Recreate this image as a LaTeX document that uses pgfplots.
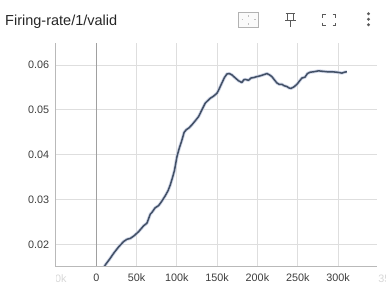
\documentclass[border=0pt]{standalone}
\usepackage{pgfplots}
\pgfplotsset{compat=1.18}
\usepackage{fontspec}
\setmainfont{Liberation Sans}
\definecolor{lineC}{RGB}{66,80,102}
\definecolor{haloC}{RGB}{196,204,226}
\definecolor{gridC}{RGB}{222,222,222}
\definecolor{zeroC}{RGB}{160,160,160}
\definecolor{axC}{RGB}{185,185,185}
\definecolor{tickC}{RGB}{60,60,60}
\definecolor{fadeC}{RGB}{215,215,215}
\definecolor{iconC}{RGB}{90,90,90}
\begin{document}
\begin{tikzpicture}
\begin{axis}[
  scale only axis,
  width=320.7pt, height=223.7pt,
  at={(0,0)}, anchor=south west,
  xmin=-50000, xmax=348000,
  ymin=0.0151, ymax=0.0649,
  scaled ticks=false,
  axis line style={draw=none},
  axis x line*=bottom, axis y line*=left,
  xtick={0,50000,100000,150000,200000,250000,300000},
  xticklabels={0,50k,100k,150k,200k,250k,300k},
  ytick={0.02,0.03,0.04,0.05,0.06},
  yticklabels={0.02,0.03,0.04,0.05,0.06},
  major tick length=0pt,
  grid=major,
  major grid style={gridC, line width=1pt},
  tick label style={font=\fontsize{10.8}{13}\selectfont, text=tickC},
  xticklabel style={yshift=-3.7pt},
  yticklabel style={xshift=-3.4pt},
  clip=true,
]
\addplot[haloC, line width=3.2pt, line join=round, opacity=0.8] coordinates {
(8000,0.0146)(12000,0.0157)(17400,0.0170)(22000,0.0182)(27700,0.0195)(33900,0.0207)(38000,0.0212)(42200,0.0214)(47000,0.0220)(52500,0.0229)(58700,0.0242)(62900,0.0248)(67000,0.0268)(69100,0.0272)(73000,0.0282)(77300,0.0287)(81000,0.0296)(85600,0.0309)(89000,0.0320)(91800,0.0333)(95000,0.0352)(97100,0.0366)(100100,0.0396)(103000,0.0415)(106300,0.0433)(109000,0.0450)(111700,0.0456)(115000,0.0460)(118700,0.0467)(122000,0.0474)(126900,0.0485)(131000,0.0500)(135200,0.0515)(138000,0.0520)(141400,0.0526)(145000,0.0530)(149700,0.0537)(152000,0.0545)(155900,0.0560)(159000,0.0572)(162100,0.0580)(165000,0.0581)(168300,0.0578)(172000,0.0572)(176500,0.0565)(180700,0.0561)(183000,0.0567)(184800,0.0568)(188900,0.0566)(192000,0.0571)(195200,0.0572)(199000,0.0574)(203500,0.0576)(207000,0.0578)(211800,0.0581)(215000,0.0578)(218000,0.0574)(221000,0.0567)(224200,0.0560)(227000,0.0557)(230400,0.0557)(233000,0.0554)(236600,0.0552)(239000,0.0549)(241600,0.0548)(245000,0.0551)(249000,0.0557)(252000,0.0564)(255200,0.0571)(259000,0.0573)(262000,0.0581)(265500,0.0584)(270000,0.0585)(275800,0.0587)(281000,0.0586)(286200,0.0585)(292000,0.0585)(298600,0.0584)(302000,0.0583)(304800,0.0582)(308000,0.0584)(311000,0.0585)
};
\addplot[lineC, line width=1.5pt, line join=round] coordinates {
(8000,0.0146)(12000,0.0157)(17400,0.0170)(22000,0.0182)(27700,0.0195)(33900,0.0207)(38000,0.0212)(42200,0.0214)(47000,0.0220)(52500,0.0229)(58700,0.0242)(62900,0.0248)(67000,0.0268)(69100,0.0272)(73000,0.0282)(77300,0.0287)(81000,0.0296)(85600,0.0309)(89000,0.0320)(91800,0.0333)(95000,0.0352)(97100,0.0366)(100100,0.0396)(103000,0.0415)(106300,0.0433)(109000,0.0450)(111700,0.0456)(115000,0.0460)(118700,0.0467)(122000,0.0474)(126900,0.0485)(131000,0.0500)(135200,0.0515)(138000,0.0520)(141400,0.0526)(145000,0.0530)(149700,0.0537)(152000,0.0545)(155900,0.0560)(159000,0.0572)(162100,0.0580)(165000,0.0581)(168300,0.0578)(172000,0.0572)(176500,0.0565)(180700,0.0561)(183000,0.0567)(184800,0.0568)(188900,0.0566)(192000,0.0571)(195200,0.0572)(199000,0.0574)(203500,0.0576)(207000,0.0578)(211800,0.0581)(215000,0.0578)(218000,0.0574)(221000,0.0567)(224200,0.0560)(227000,0.0557)(230400,0.0557)(233000,0.0554)(236600,0.0552)(239000,0.0549)(241600,0.0548)(245000,0.0551)(249000,0.0557)(252000,0.0564)(255200,0.0571)(259000,0.0573)(262000,0.0581)(265500,0.0584)(270000,0.0585)(275800,0.0587)(281000,0.0586)(286200,0.0585)(292000,0.0585)(298600,0.0584)(302000,0.0583)(304800,0.0582)(308000,0.0584)(311000,0.0585)
};
\end{axis}
\begin{scope}[shift={(-56pt,266.7pt)}, x=1pt, y=-1pt]
% axis lines
\draw[zeroC, line width=1pt] (96,43) -- (96,266.7);
\draw[axC, line width=1pt] (56,43) -- (56,266.7);
\draw[axC, line width=1pt] (56,266.7) -- (376.7,266.7);
% faded extra labels
\begin{scope}
\clip (56.5,268) rectangle (386,298);
\node[text=fadeC, font=\fontsize{10.8}{13}\selectfont] at (56,278.5) {-50k};
\node[text=fadeC, font=\fontsize{10.8}{13}\selectfont] at (390,278.5) {350k};
\end{scope}
% title
\node[anchor=base west, inner sep=0pt, text=black!85, font=\fontsize{14.5}{16}\selectfont] at (5,25) {Firing-rate/1/valid};
% icons
\draw[black!30, line width=0.8pt, fill=black!2] (238.5,12.5) rectangle (258.5,27);
\draw[black!25, line width=0.6pt] (248.5,15) -- (248.5,16.5) (248.5,23) -- (248.5,24.5) (241.5,19.75) -- (243,19.75) (254,19.75) -- (255.5,19.75);
\draw[iconC, line width=1pt] (285.5,13.5) -- (295,13.5);
\draw[iconC, line width=1pt] (287,13.5) -- (287,20) (293.5,13.5) -- (293.5,20);
\draw[iconC, line width=1pt] (285,20.5) -- (295.5,20.5);
\draw[iconC, line width=1pt] (290.25,20.5) -- (290.25,27);
\draw[iconC, line width=1.2pt] (322.5,17.5) -- (322.5,14.5) -- (325.5,14.5);
\draw[iconC, line width=1.2pt] (332.5,14.5) -- (335.5,14.5) -- (335.5,17.5);
\draw[iconC, line width=1.2pt] (322.5,22.5) -- (322.5,25.5) -- (325.5,25.5);
\draw[iconC, line width=1.2pt] (332.5,25.5) -- (335.5,25.5) -- (335.5,22.5);
\fill[iconC] (368.5,13.8) circle (1.6) (368.5,19.3) circle (1.6) (368.5,24.8) circle (1.6);
\pgfresetboundingbox
\path[use as bounding box] (0,0) rectangle (386,298);
\end{scope}
\end{tikzpicture}
\end{document}
